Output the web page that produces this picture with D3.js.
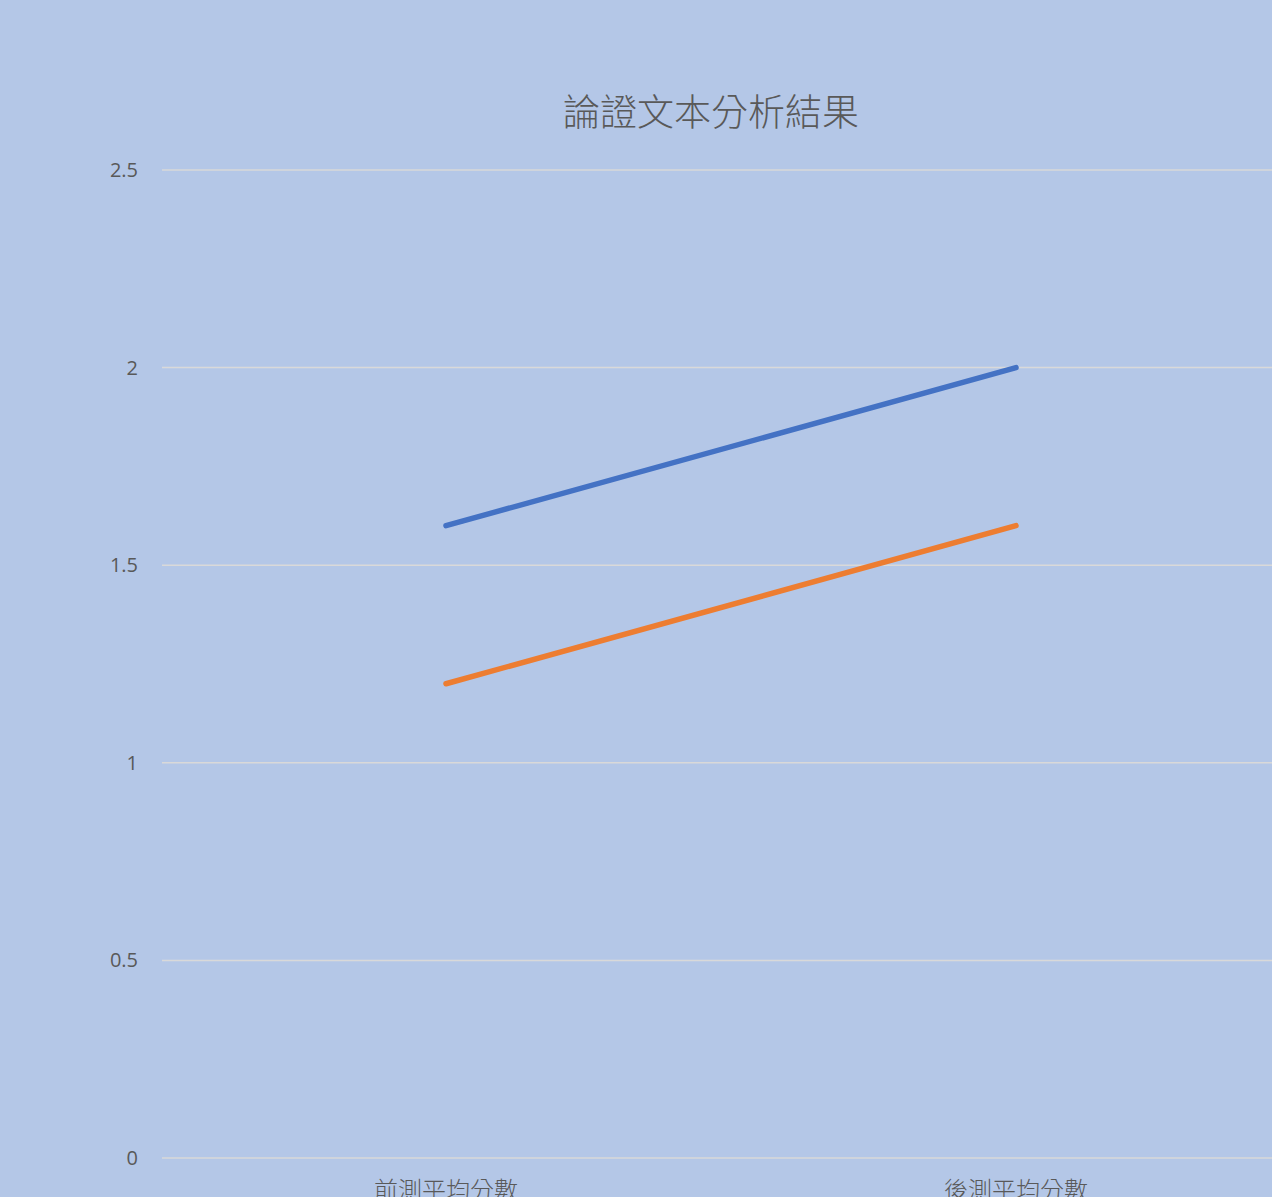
<!DOCTYPE html>
<html><head><meta charset="utf-8">
<script src="https://cdn.jsdelivr.net/npm/d3@7"></script>
<style>html,body{margin:0;padding:0;background:#B4C7E7;overflow:hidden}</style>
</head><body>
<svg id="c" width="1272" height="1197"></svg>
<script>
const categories = ["前測平均分數", "後測平均分數"];
const seriesA = [1.6, 2.0];
const seriesB = [1.2, 1.6];
const yTicks = [0, 0.5, 1, 1.5, 2, 2.5];
const title = "論證文本分析結果";

const svg = d3.select("#c");
svg.append("rect").attr("width",1272).attr("height",1197).attr("fill","#B4C7E7");
const x = d3.scalePoint().domain(categories).range([161, 1301]).padding(0.5);
const y = d3.scaleLinear().domain([0, 2.5]).range([1158, 170]);

svg.append("g").selectAll("line").data(yTicks).join("line")
  .attr("x1",162).attr("x2",1272).attr("y1",d=>y(d)).attr("y2",d=>y(d))
  .attr("stroke","#D9D9D9").attr("stroke-width",1.5);

svg.append("g").selectAll("text").data(yTicks).join("text")
  .attr("x",138).attr("y",d=>y(d)).attr("dy","0.35em").attr("text-anchor","end")
  .attr("font-family","'Open Sans', 'Noto Sans', sans-serif").attr("font-size",20).attr("fill","#595959")
  .text(d=>d);

svg.append("g").selectAll("text").data(categories).join("text")
  .attr("x",d=>x(d)).attr("y",1199).attr("text-anchor","middle")
  .attr("font-family","'Noto Sans CJK TC', sans-serif").attr("font-weight",300).attr("font-size",24).attr("fill","#595959")
  .text(d=>d);

const line = d3.line().x((d,i)=>x(categories[i])).y(d=>y(d));
[[seriesA,"#4472C4"],[seriesB,"#ED7D31"]].forEach(([s,c])=>{
  svg.append("path").attr("d",line(s)).attr("fill","none").attr("stroke",c)
    .attr("stroke-width",5.5).attr("stroke-linecap","round").attr("stroke-linejoin","round");
});

svg.append("text").attr("x",711).attr("y",126).attr("text-anchor","middle")
  .attr("font-family","'Noto Sans CJK TC', sans-serif").attr("font-weight",300).attr("font-size",37).attr("fill","#595959")
  .text(title);
</script>
</body></html>
